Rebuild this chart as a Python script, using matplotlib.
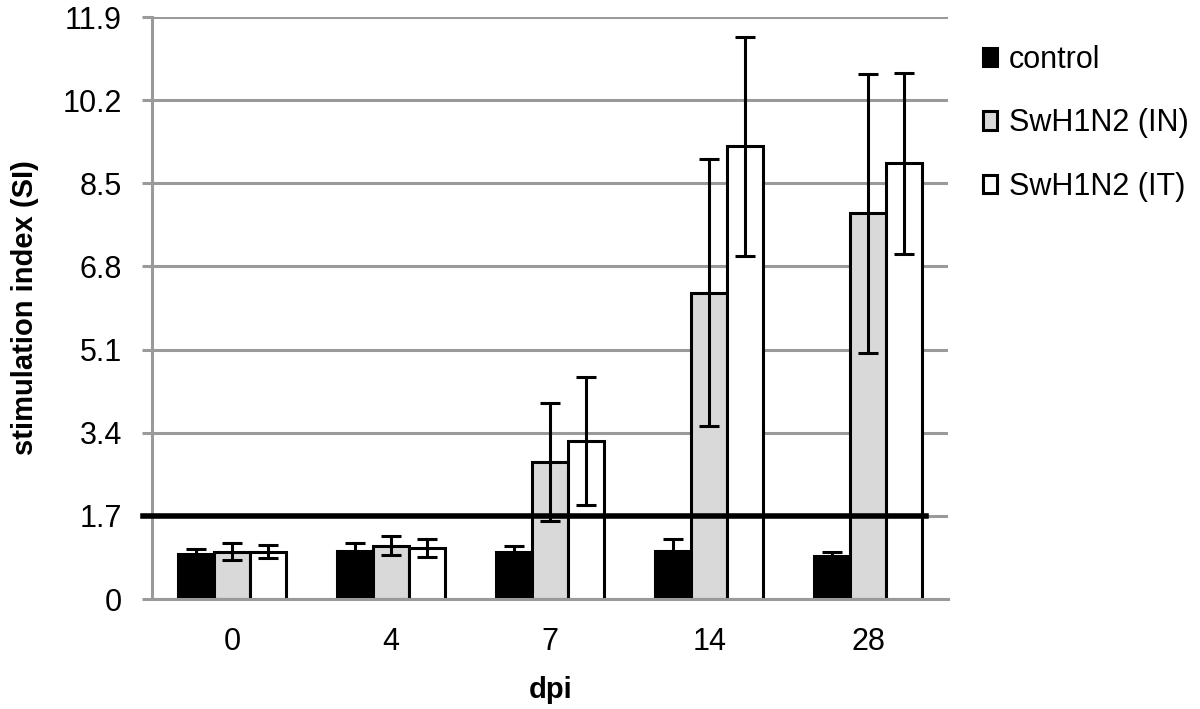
import numpy as np
import matplotlib.pyplot as plt

plt.rcParams['font.family'] = ['Liberation Sans', 'DejaVu Sans']

# donnees
jours = ["0", "4", "7", "14", "28"]
series = ["control", "SwH1N2 (IN)", "SwH1N2 (IT)"]
control = [0.93, 0.99, 0.96, 0.99, 0.89]
control_err = [0.09, 0.16, 0.12, 0.23, 0.07]
swin = [0.97, 1.09, 2.80, 6.26, 7.89]
swin_err = [0.18, 0.19, 1.20, 2.73, 2.85]
swit = [0.97, 1.04, 3.24, 9.26, 8.91]
swit_err = [0.13, 0.18, 1.31, 2.24, 1.85]
seuil = 1.7
yticks = [0, 1.7, 3.4, 5.1, 6.8, 8.5, 10.2, 11.9]
ytick_labels = ["0", "1.7", "3.4", "5.1", "6.8", "8.5", "10.2", "11.9"]

couleurs = ["black", "#d9d9d9", "white"]
valeurs = [control, swin, swit]
erreurs = [control_err, swin_err, swit_err]

fig = plt.figure(figsize=(12, 7.09), dpi=100)
ax = fig.add_axes([0.127, 0.155, 0.663, 0.821])

x = np.arange(len(jours))
largeur = 0.226
for i in range(3):
    pos = x + (i - 1) * largeur
    ax.bar(pos, valeurs[i], largeur, color=couleurs[i], edgecolor="black",
           linewidth=2.2, label=series[i], zorder=2)
    ax.errorbar(pos, valeurs[i], yerr=erreurs[i], fmt="none", ecolor="black",
                elinewidth=2.2, capsize=7, capthick=2.2, zorder=3)

# ligne de seuil
ax.plot([-0.56, 4.36], [seuil, seuil], color="black", linewidth=4,
        clip_on=False, zorder=4)

ax.set_xlim(-0.5, 4.5)
ax.set_ylim(0, 11.9)
ax.set_yticks(yticks)
ax.set_yticklabels(ytick_labels)
ax.set_xticks(x)
ax.set_xticklabels(jours)
ax.yaxis.grid(True, color="#9a9a9a", linewidth=2.2, zorder=0)
ax.set_axisbelow(True)

for s in ["top", "right"]:
    ax.spines[s].set_visible(False)
for s in ["left", "bottom"]:
    ax.spines[s].set_color("#9a9a9a")
    ax.spines[s].set_linewidth(2.2)

ax.tick_params(axis="y", length=7, width=2.2, color="#9a9a9a", pad=15,
               labelsize=22)
ax.tick_params(axis="x", length=0, pad=20, labelsize=22)

ax.set_ylabel("stimulation index (SI)", fontsize=21, fontweight="bold")
ax.yaxis.set_label_coords(-0.143, 0.5)
ax.set_xlabel("dpi", fontsize=21, fontweight="bold", labelpad=14)

fig.legend(loc="upper left", bbox_to_anchor=(0.809, 0.954), frameon=False,
           fontsize=22, handlelength=0.45, handleheight=0.55, handletextpad=0.4,
           labelspacing=1.1, borderaxespad=0)

plt.savefig("out.png", dpi=100)
